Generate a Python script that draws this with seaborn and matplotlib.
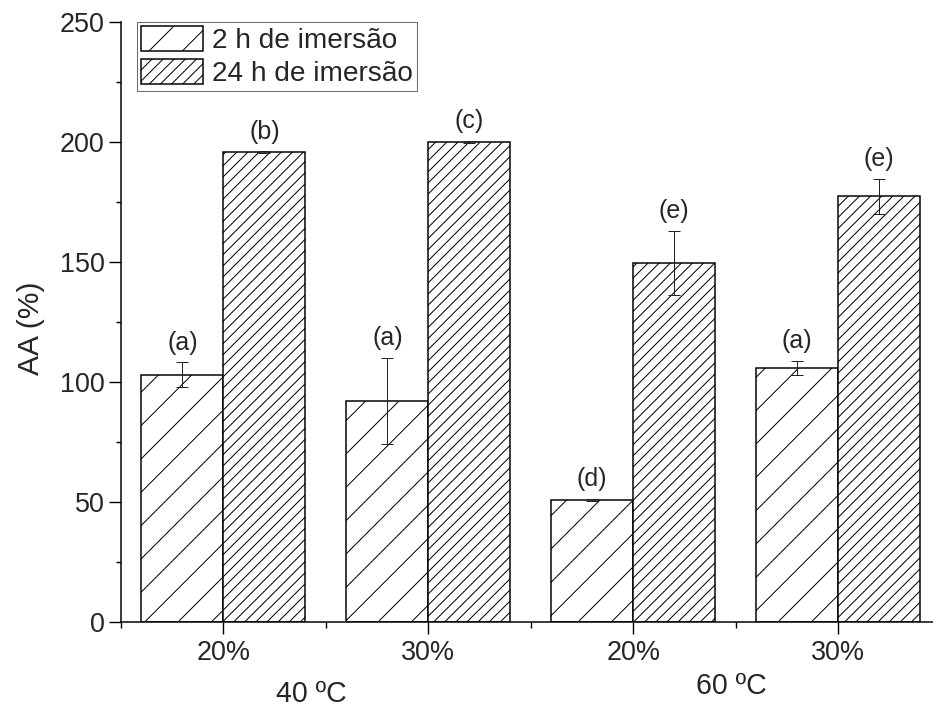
import numpy as np
import pandas as pd
import matplotlib
matplotlib.use("Agg")
import matplotlib.pyplot as plt
import seaborn as sns

# ---------------- data ----------------
temps = ["40 ºC", "40 ºC", "60 ºC", "60 ºC"]
concs = ["20%", "30%", "20%", "30%"]
series = ["2 h de imersão", "24 h de imersão"]
aa_2h = [103.1, 92.2, 51.0, 105.9]
err_2h = [5.1, 17.9, 0.4, 3.0]
aa_24h = [195.7, 200.1, 149.6, 177.3]
err_24h = [0.4, 0.4, 13.4, 7.4]
letters_2h = ["(a)", "(a)", "(d)", "(a)"]
letters_24h = ["(b)", "(c)", "(e)", "(e)"]
group_labels = ["40 ºC", "60 ºC"]
yticks = [0, 50, 100, 150, 200, 250]

conds = [f"{t} {c}" for t, c in zip(temps, concs)]
df = pd.DataFrame({
    "cond": conds * 2,
    "series": [series[0]] * 4 + [series[1]] * 4,
    "AA": aa_2h + aa_24h,
})

# ---------------- style ----------------
DPI = 100
def P(px):
    """pixels -> points at the figure dpi"""
    return px * 72.0 / DPI

sns.set_style("ticks")
plt.rcParams["font.family"] = ["Liberation Sans", "DejaVu Sans"]
plt.rcParams["hatch.linewidth"] = P(1.0)

W, H = 933, 709
fig = plt.figure(figsize=(W / DPI, H / DPI), dpi=DPI)
ax = fig.add_axes([121 / W, 87 / H, 819.5 / W, 600 / H])

sns.barplot(data=df, x="cond", y="AA", hue="series", order=conds,
            hue_order=series, palette=["white", "white"], saturation=1,
            edgecolor="black", linewidth=P(1.5), width=0.8, errorbar=None,
            legend=False, ax=ax)

bar_conts = list(ax.containers)
hatches = ["/", "///"]
for cont, h in zip(bar_conts, hatches):
    for p in cont:
        p.set_hatch(h)

for cont, means, errs, labs in zip(bar_conts, [aa_2h, aa_24h],
                                   [err_2h, err_24h],
                                   [letters_2h, letters_24h]):
    xs = [p.get_x() + p.get_width() / 2 for p in cont]
    ax.errorbar(xs, means, yerr=errs, fmt="none", ecolor="#222222",
                elinewidth=P(1.0), capsize=P(6.0), capthick=P(1.0), zorder=5)
    for x, m, e, lab in zip(xs, means, errs, labs):
        ax.annotate(lab, (x, m + e), xytext=(0, P(7.5)),
                    textcoords="offset points",
                    ha="center", va="bottom", fontsize=P(25))

# axes
ax.set_xlim(-0.5, 3.5)
ax.set_ylim(0, 250)
ax.set_yticks(yticks)
ax.set_yticks(np.arange(25, 250, 50), minor=True)
ax.set_xticks(range(len(concs)))
ax.set_xticklabels(concs)
ax.set_xticks(np.arange(-0.5, 3.6, 1.0), minor=True)
ax.set_xlabel("")
ax.set_ylabel("AA (%)", fontsize=P(30))
ax.yaxis.set_label_coords(-0.093, 0.49)

ax.tick_params(axis="both", which="major", length=P(12), width=P(1.4),
               labelsize=P(27), direction="out", color="black")
ax.tick_params(axis="y", which="major", pad=P(4.5))
ax.tick_params(axis="x", which="major", pad=P(5.5))
ax.tick_params(axis="both", which="minor", length=P(5.5), width=P(1.4),
               direction="out", color="black")

sns.despine(ax=ax)
for s in ["left", "bottom"]:
    ax.spines[s].set_linewidth(P(1.5))
    ax.spines[s].set_color("black")

# group labels under the concentration ticks
ax.annotate(group_labels[0], xy=(0.43, 15), xycoords=("data", "figure pixels"),
            ha="center", va="center", fontsize=P(28.5), annotation_clip=False)
ax.annotate(group_labels[1], xy=(2.48, 23), xycoords=("data", "figure pixels"),
            ha="center", va="center", fontsize=P(28.5), annotation_clip=False)

# legend
leg = ax.legend(handles=[c.patches[0] for c in bar_conts], labels=series,
                loc="upper left", bbox_to_anchor=(0.0195, 1.0),
                borderaxespad=0, fontsize=P(28), frameon=True, fancybox=False,
                handlelength=2.2, handleheight=1.0, labelspacing=0.15,
                borderpad=0.15, handletextpad=0.32)
leg.get_frame().set_edgecolor("#444444")
leg.get_frame().set_linewidth(P(1.0))

fig.savefig("out.png", dpi=DPI)
